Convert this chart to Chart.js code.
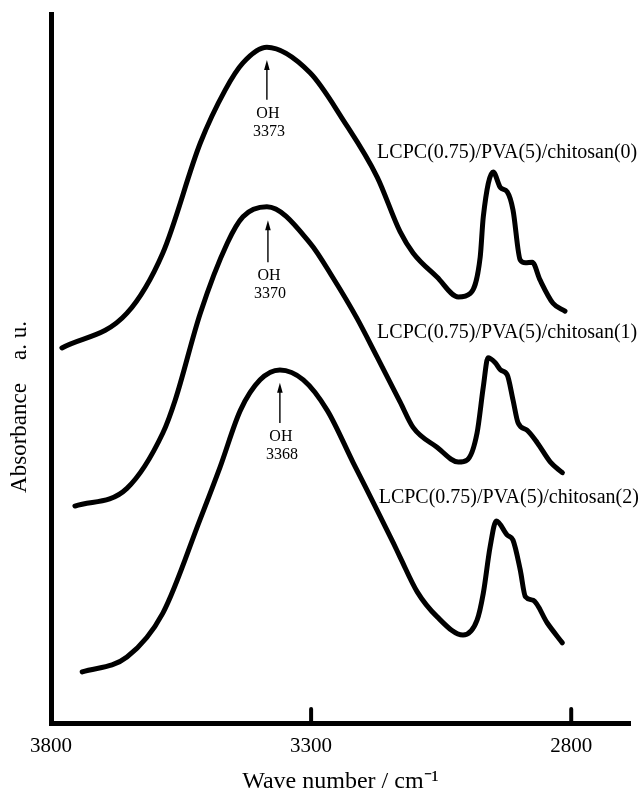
<!DOCTYPE html>
<html>
<head>
<meta charset="utf-8">
<script src="https://cdn.jsdelivr.net/npm/chart.js@4/dist/chart.umd.min.js"></script>
<style>
  html, body { margin: 0; padding: 0; background: #fff; }
  #wrap { width: 643px; height: 797px; }
</style>
</head>
<body>
<div id="wrap"><canvas id="c" width="643" height="797"></canvas></div>
<script>
// ---- data ----
const tickVals = [3800, 3300, 2800];
const seriesNames = ['LCPC(0.75)/PVA(5)/chitosan(0)', 'LCPC(0.75)/PVA(5)/chitosan(1)', 'LCPC(0.75)/PVA(5)/chitosan(2)'];
const peakNames = ['3373', '3370', '3368'];

const wn0  = [3779, 3654, 3585, 3513, 3465, 3431, 3385, 3302, 3238, 3173, 3129, 3104, 3058, 3017, 2994, 2975, 2969, 2950, 2936, 2923, 2912, 2898, 2888, 2875, 2860, 2835, 2812];
const abs0 = [52.9, 57.8, 66.3, 81.8, 89.3, 93.1, 95.3, 91.7, 85.0, 77.0, 69.3, 66.3, 62.9, 60.1, 60.6, 65.7, 71.4, 77.7, 75.5, 74.9, 72.4, 65.3, 64.9, 65.0, 62.5, 59.2, 58.1];

const wn1  = [3754, 3654, 3585, 3561, 3513, 3461, 3431, 3385, 3302, 3258, 3212, 3173, 3129, 3104, 3058, 3017, 3000, 2981, 2969, 2960, 2946, 2936, 2923, 2912, 2902, 2885, 2865, 2840, 2817];
const abs1 = [30.6, 33.1, 40.9, 45.6, 57.8, 67.7, 71.4, 72.8, 67.7, 62.8, 57.1, 51.6, 45.3, 41.7, 38.9, 36.8, 37.1, 40.9, 47.4, 51.5, 50.8, 49.8, 49.1, 45.6, 42.3, 41.3, 39.5, 36.8, 35.3];

const wn2  = [3740, 3654, 3585, 3513, 3475, 3436, 3398, 3360, 3315, 3269, 3219, 3173, 3142, 3129, 3096, 3058, 3008, 2981, 2969, 2956, 2944, 2923, 2912, 2898, 2888, 2873, 2846, 2817];
const abs2 = [7.2, 9.3, 15.5, 28.8, 36.1, 44.1, 48.4, 49.8, 48.4, 44.1, 36.7, 30.0, 25.4, 23.4, 18.5, 15.0, 12.4, 14.5, 18.3, 24.8, 28.5, 26.5, 25.8, 21.6, 17.8, 17.3, 14.1, 11.3];

const toPts = (xs, ys) => xs.map((x, i) => ({ x: x, y: ys[i] }));

const annotate = {
  id: 'annotate',
  afterDatasetsDraw(chart, args, opts) {
    const ctx = chart.ctx;
    const xs = chart.scales.x, ys = chart.scales.y;
    ctx.save();
    ctx.fillStyle = '#000';
    ctx.strokeStyle = '#000';
    // small inward tick marks
    ctx.lineWidth = 4;
    ctx.lineCap = 'round';
    tickVals.slice(1).forEach(v => {
      const px = xs.getPixelForValue(v);
      ctx.beginPath();
      ctx.moveTo(px, chart.chartArea.bottom);
      ctx.lineTo(px, chart.chartArea.bottom - 14);
      ctx.stroke();
    });
    // series labels
    ctx.font = '20px "Liberation Serif", serif';
    ctx.textAlign = 'right';
    ctx.textBaseline = 'middle';
    opts.labelPos.forEach((p, i) => {
      ctx.fillText(seriesNames[i], xs.getPixelForValue(p.x), ys.getPixelForValue(p.y));
    });
    // peak arrows
    ctx.lineCap = 'butt';
    opts.arrows.forEach((a, i) => {
      const px = xs.getPixelForValue(a.x);
      const tip = ys.getPixelForValue(a.tip);
      const tail = ys.getPixelForValue(a.tail);
      ctx.lineWidth = 1.4;
      ctx.beginPath();
      ctx.moveTo(px, tail);
      ctx.lineTo(px, tip + 6);
      ctx.stroke();
      ctx.beginPath();
      ctx.moveTo(px, tip);
      ctx.lineTo(px - 2.8, tip + 10);
      ctx.lineTo(px + 2.8, tip + 10);
      ctx.closePath();
      ctx.fill();
      ctx.font = '16px "Liberation Serif", serif';
      ctx.textAlign = 'center';
      ctx.fillText('OH', px + 1, tail + 14);
      ctx.fillText(peakNames[i], px + 2, tail + 32);
    });
    // y axis title
    ctx.font = '23px "Liberation Serif", serif';
    ctx.translate(20, 407);
    ctx.rotate(-Math.PI / 2);
    ctx.textAlign = 'center';
    ctx.fillText('Absorbance    a. u.', 0, 0);
    ctx.restore();
  }
};

const lineStyle = {
  borderColor: '#000', borderWidth: 5, pointRadius: 0, fill: false,
  cubicInterpolationMode: 'monotone', borderJoinStyle: 'round', borderCapStyle: 'round'
};

new Chart(document.getElementById('c'), {
  type: 'line',
  data: {
    datasets: [
      Object.assign({ label: seriesNames[0], data: toPts(wn0, abs0) }, lineStyle),
      Object.assign({ label: seriesNames[1], data: toPts(wn1, abs1) }, lineStyle),
      Object.assign({ label: seriesNames[2], data: toPts(wn2, abs2) }, lineStyle)
    ]
  },
  options: {
    responsive: false,
    animation: false,
    devicePixelRatio: 1,
    layout: { padding: { left: 51, right: 13, top: 14, bottom: 0 } },
    plugins: {
      legend: { display: false },
      tooltip: { enabled: false },
      annotate: {
        labelPos: [{ x: 2673, y: 80.5 }, { x: 2673, y: 55.0 }, { x: 2670, y: 31.7 }],
        arrows: [
          { x: 3385, tip: 93.5, tail: 87.9 },
          { x: 3383, tip: 70.9, tail: 65.0 },
          { x: 3360, tip: 48.0, tail: 42.3 }
        ]
      }
    },
    scales: {
      x: {
        type: 'linear', reverse: true, min: 2687, max: 3800,
        afterBuildTicks: s => { s.ticks = tickVals.map(v => ({ value: v })); },
        ticks: { color: '#000', font: { family: '"Liberation Serif", serif', size: 21, lineHeight: 1 },
                 padding: 13, maxRotation: 0, autoSkip: false, callback: v => String(v) },
        grid: { display: false, drawTicks: false },
        border: { display: true, color: '#000', width: 5 },
        title: { display: true, text: 'Wave number / cm⁻¹', color: '#000',
                 font: { family: '"Liberation Serif", serif', size: 24, lineHeight: 1 }, padding: { top: 0, bottom: 3 } }
      },
      y: {
        type: 'linear', min: 0, max: 100,
        ticks: { display: false },
        grid: { display: false, drawTicks: false },
        border: { display: true, color: '#000', width: 5 }
      }
    }
  },
  plugins: [annotate]
});
</script>
</body>
</html>
